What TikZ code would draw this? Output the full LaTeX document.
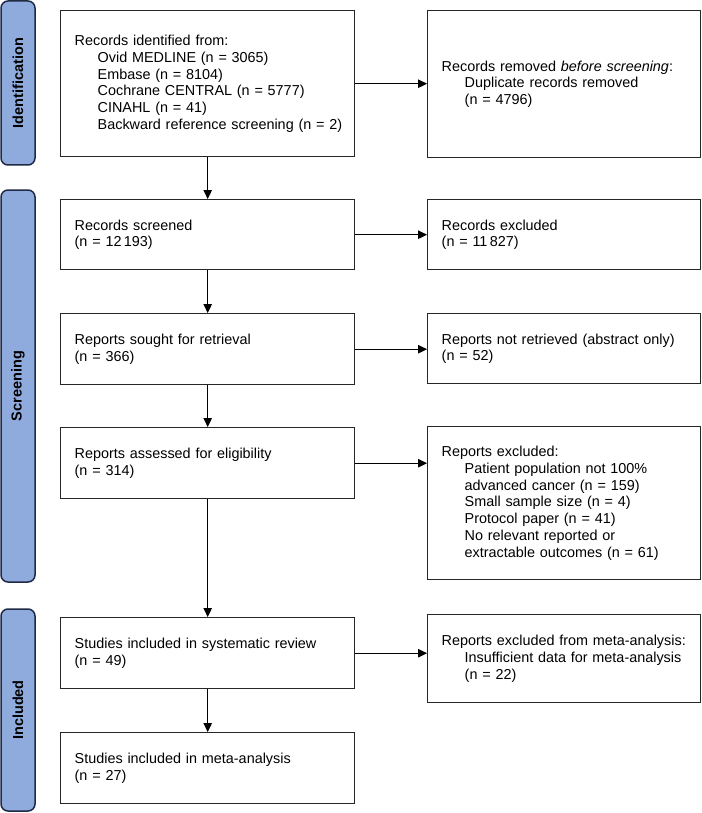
\documentclass[tikz,border=0pt]{standalone}
\usepackage{fontspec}
\setmainfont{Liberation Sans}
\usetikzlibrary{arrows.meta}
\definecolor{barfill}{HTML}{8FAADC}
\definecolor{barline}{HTML}{1F2A44}
\definecolor{boxline}{HTML}{262626}
\tikzset{
  box/.style={draw=boxline, line width=1.4pt, rectangle, anchor=north west, align=left,
    inner xsep=14pt, inner ysep=0pt, font=\fontsize{14.4}{16.7}\selectfont},
  leftbox/.style={box, minimum width=294pt, text width=266pt},
  rightbox/.style={box, minimum width=273pt, text width=245pt},
  bar/.style={draw=barline, fill=barfill, line width=1.5pt, rounded corners=7pt},
  barlabel/.style={rotate=90, font=\fontsize{14.5}{16.7}\selectfont\bfseries},
  arr/.style={draw=black, line width=1.1pt, -{Triangle[length=9pt,width=8.5pt]}}
}
\newcommand{\ind}{\hspace*{23pt}}
\begin{document}
\begin{tikzpicture}[x=1pt,y=-1pt]
\useasboundingbox (0,0) rectangle (701,813);
% side bars
\draw[bar] (1,1) rectangle (35,165);
\node[barlabel] (lid) at (18,83) {Identification};
\draw[bar] (1,190) rectangle (35,582);
\node[barlabel] (lsc) at (18,386) {Screening};
\draw[bar] (1,609) rectangle (35,811);
\node[barlabel] (lin) at (18,710) {Included};
% left boxes
\node[leftbox, minimum height=146pt] (b1) at (60,10) {Records identified from:\\
\ind Ovid MEDLINE (n = 3065)\\
\ind Embase (n = 8104)\\
\ind Cochrane CENTRAL (n = 5777)\\
\ind CINAHL (n = 41)\\
\ind \mbox{Backward reference screening (n = 2)}};
\node[leftbox, minimum height=70pt] (b2) at (60,199) {Records screened\\(n = 12\,193)};
\node[leftbox, minimum height=71pt] (b3) at (60,313) {Reports sought for retrieval\\(n = 366)};
\node[leftbox, minimum height=71pt] (b4) at (60,427) {Reports assessed for eligibility\\(n = 314)};
\node[leftbox, minimum height=71pt] (b5) at (60,617) {Studies included in systematic review\\(n = 49)};
\node[leftbox, minimum height=71pt] (b6) at (60,732) {Studies included in meta-analysis\\(n = 27)};
% right boxes
\node[rightbox, minimum height=147pt] (r1) at (427,10) {Records removed \textit{before screening}:\\
\ind Duplicate records removed\\
\ind (n = 4796)};
\node[rightbox, minimum height=70pt] (r2) at (427,199) {Records excluded\\(n = 11\,827)};
\node[rightbox, minimum height=70pt] (r3) at (427,313) {\mbox{Reports not retrieved (abstract only)}\\(n = 52)};
\node[rightbox, minimum height=153pt] (r4) at (427,426) {Reports excluded:\\
\ind Patient population not 100\%\\
\ind advanced cancer (n = 159)\\
\ind Small sample size (n = 4)\\
\ind Protocol paper (n = 41)\\
\ind No relevant reported or\\
\ind extractable outcomes (n = 61)};
\node[rightbox, minimum height=88pt] (r5) at (427,614) {\mbox{Reports excluded from meta-analysis:}\\
\ind \mbox{Insufficient data for meta-analysis}\\
\ind (n = 22)};
% vertical arrows
\draw[arr] (b1.south) -- (b2.north);
\draw[arr] (b2.south) -- (b3.north);
\draw[arr] (b3.south) -- (b4.north);
\draw[arr] (b4.south) -- (b5.north);
\draw[arr] (b5.south) -- (b6.north);
% horizontal arrows
\draw[arr] (b1.east) -- (b1.east -| r1.west);
\draw[arr] (b2.east) -- (b2.east -| r2.west);
\draw[arr] (b3.east) -- (b3.east -| r3.west);
\draw[arr] (b4.east) -- (b4.east -| r4.west);
\draw[arr] (b5.east) -- (b5.east -| r5.west);
\end{tikzpicture}
\end{document}
